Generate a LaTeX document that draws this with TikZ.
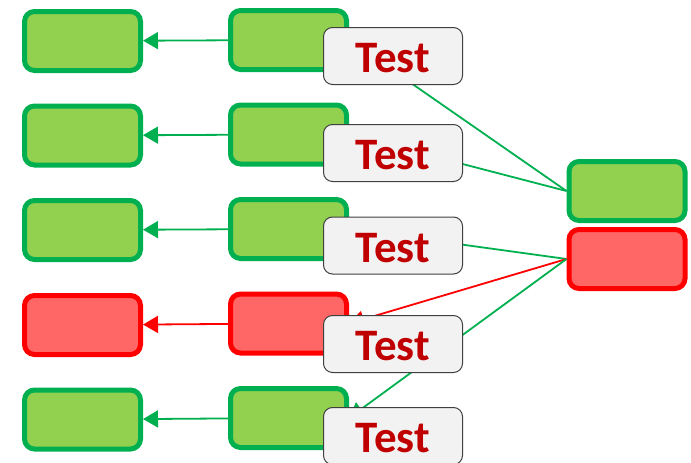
\documentclass[tikz,border=0pt]{standalone}
\usepackage{fontspec}
\setmainfont{Carlito}
\usetikzlibrary{arrows.meta}

\definecolor{okfill}{HTML}{92D050}
\definecolor{okline}{HTML}{00B050}
\definecolor{badfill}{HTML}{FF6666}
\definecolor{badline}{HTML}{FF0000}
\definecolor{testfill}{HTML}{F2F2F2}
\definecolor{testline}{HTML}{404040}
\definecolor{testred}{HTML}{C00000}

\begin{document}
\begin{tikzpicture}[x=1pt,y=-1pt,
	box/.style={draw, line width=5pt, rounded corners=10pt, minimum width=116pt, minimum height=59pt, inner sep=0pt},
	okbox/.style={box, draw=okline, fill=okfill},
	badbox/.style={box, draw=badline, fill=badfill},
	testbox/.style={draw=testline, fill=testfill, line width=1pt, rounded corners=9pt, minimum width=139pt, minimum height=57pt, inner sep=0pt, text height=33pt, text depth=0pt, text=testred, font=\fontsize{45}{45}\selectfont\bfseries},
	okarrow/.style={-{Triangle[length=15pt,width=17pt]}, line width=1.8pt, okline},
	badarrow/.style={-{Triangle[length=15pt,width=17pt]}, line width=1.8pt, badline}]
	\useasboundingbox (0,0) rectangle (691,463);
	
	% left column
	\node[okbox] at(82.5,41) (out1) {};
	\node[okbox] at(82.5,135.5) (out2) {};
	\node[okbox] at(82.5,230) (out3) {};
	\node[badbox] at(82.5,325) (out4) {};
	\node[okbox] at(82.5,419.5) (out5) {};
	
	% middle column
	\node[okbox] at(288.5,40) (in1) {};
	\node[okbox] at(288.5,134.5) (in2) {};
	\node[okbox] at(288.5,229) (in3) {};
	\node[badbox] at(288.5,323.5) (in4) {};
	\node[okbox] at(288.5,418) (in5) {};
	
	% results on the right
	\node[okbox] at(627,191) (pass) {};
	\node[badbox] at(627,259) (fail) {};
	
	\draw[okarrow] (in1) -- (out1);
	\draw[okarrow] (in2) -- (out2);
	\draw[okarrow] (in3) -- (out3);
	\draw[badarrow] (in4) -- (out4);
	\draw[okarrow] (in5) -- (out5);
	
	\draw[okarrow] (pass.west) -- (in1.east);
	\draw[okarrow] (pass.west) -- (in2.east);
	\draw[okarrow] (fail.west) -- (in3.east);
	\draw[badarrow] (fail.west) -- (in4.east);
	\draw[okarrow] (fail.west) -- (in5.east);
	
	% test labels on top
	\node[testbox] at(393,56) (test1) {Test};
	\node[testbox] at(393,153) (test2) {Test};
	\node[testbox] at(393,245.5) (test3) {Test};
	\node[testbox] at(393,344) (test4) {Test};
	\node[testbox] at(393,436) (test5) {Test};
\end{tikzpicture}
\end{document}
